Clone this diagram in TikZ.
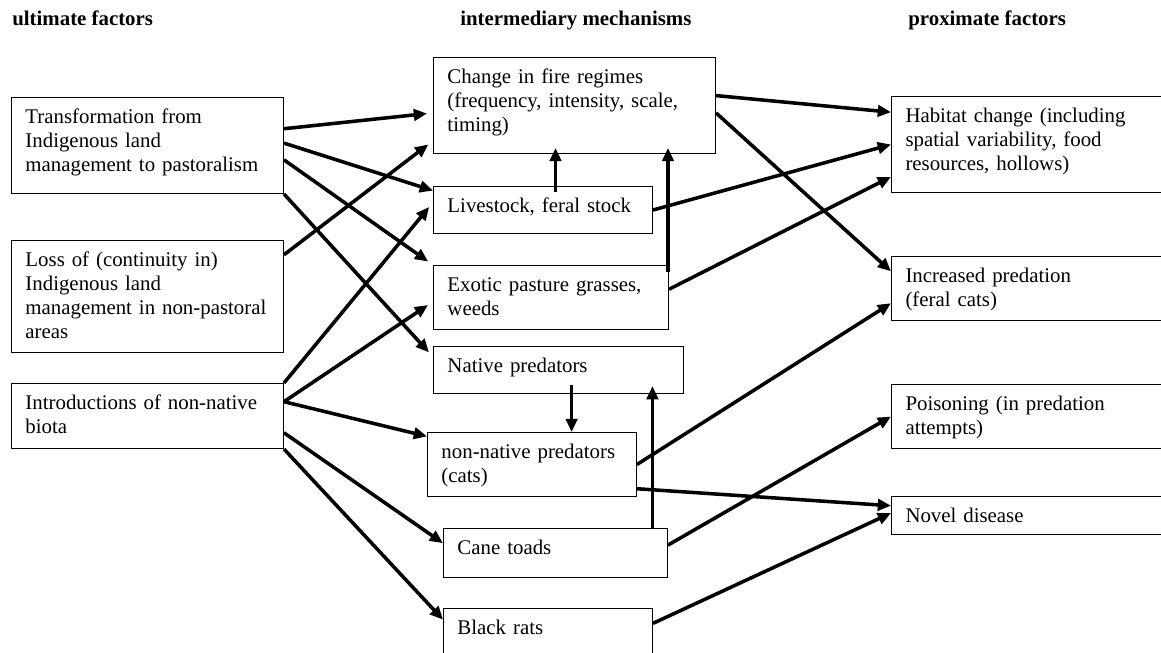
\documentclass[tikz,border=0pt]{standalone}
\usepackage{fontspec}
\setmainfont{Liberation Serif}
\usetikzlibrary{arrows.meta}

\begin{document}
\begin{tikzpicture}[x=0.566pt, y=-0.566pt,
    every node/.style={font=\fontsize{11.8}{13.6}\selectfont},
    head/.style={anchor=base west, inner sep=0pt, font=\fontsize{11.8}{13.6}\selectfont\bfseries},
    factor/.style 2 args={draw, line width=0.6pt, anchor=north west, align=left,
      inner xsep=7.9pt, inner ysep=0pt, text height=14.7pt, text width=#1, text depth=#2},
    link/.style={line width=2pt, -{Triangle[length=7.5pt,width=6.5pt]}},
    gap/.style={shorten >=3.4pt}]
    \useasboundingbox (0,0) rectangle (1161,653);
    \clip (0,0) rectangle (1161,653);

    \node[head] (ult) at (12,26) {ultimate factors};
    \node[head] (mid) at (460,26) {intermediary mechanisms};
    \node[head] (prox) at (908,26) {proximate factors};

    \node[factor={138.1pt}{39.6pt}] (T) at (11,97) {Transformation from\\Indigenous land\\management to pastoralism};
    \node[factor={138.1pt}{48.7pt}] (L) at (11,240) {Loss of (continuity in)\\Indigenous land\\management in \mbox{non-pastoral}\\areas};
    \node[factor={138.1pt}{22.1pt}] (I) at (11,383) {Introductions of \mbox{non-native}\\biota};

    \node[factor={143.8pt}{39.6pt}] (C) at (433,57) {Change in fire regimes\\(frequency, intensity, scale,\\timing)};
    \node[factor={108.1pt}{11.9pt}] (S) at (433,186) {Livestock, feral stock};
    \node[factor={117.2pt}{21.5pt}] (E) at (433,265) {Exotic pasture grasses,\\weeds};
    \node[factor={125.7pt}{11.9pt}] (N) at (433,346) {Native predators};
    \node[factor={102.4pt}{21.5pt}] (P) at (427,432) {\mbox{non-native} predators\\(cats)};
    \node[factor={110.9pt}{13.0pt}] (K) at (443,528) {Cane toads};
    \node[factor={102.4pt}{12.5pt}] (B) at (443,608) {Black rats};

    \node[factor={142.1pt}{39.6pt}] (H) at (891,96) {Habitat change (including\\spatial variability, food\\resources, hollows)};
    \node[factor={142.1pt}{21.5pt}] (R) at (891,256) {Increased predation\\(feral cats)};
    \node[factor={142.1pt}{21.5pt}] (Q) at (891,384) {Poisoning (in predation\\attempts)};
    \node[factor={142.1pt}{6.8pt}] (D) at (891,496) {Novel disease};

    \path[link] (T.7) edge[gap] (C.183);
    \path[link] (T.1) edge (S.170);
    \path[link] (T.-6) edge[gap] (E.north west);
    \path[link] (T.south east) edge[gap] (N.174);
    \path[link] (L.17.5) edge[gap] (C.194);
    \path[link] (I.north east) edge[gap] (S.176);
    \path[link] (I.6.5) edge[gap] (E.182);
    \path[link] (I.6.5) edge (P.165);
    \path[link] (I.-7) edge (K.175);
    \path[link] (I.south east) edge (B.173);

    \path[link, shorten <=-3.4pt, shorten >=-3.4pt] ([xshift=7.1pt]S.north) edge ([xshift=7.1pt]S.north |- C.south);
    \path[link, shorten <=-4pt, shorten >=-3.4pt] ([xshift=-0.6pt]E.north east) edge ([xshift=-0.6pt]E.north east |- C.south);
    \path[link, shorten <=-5pt] ([xshift=7.4pt]N.south) edge ([xshift=7.4pt]N.south |- P.north);
    \path[link, shorten >=-4.5pt] ([xshift=54.9pt]K.north) edge ([xshift=54.9pt]K.north |- N.south);

    \path[link] (C.4) edge (H.167);
    \path[link] (C.-3) edge (R.173.5);
    \path[link] (S.east) edge (H.west);
    \path[link] (E.4) edge (H.193);
    \path[link] (P.east) edge (R.186);
    \path[link] (P.-13.5) edge (D.176);
    \path[link] (K.4) edge (Q.west);
    \path[link] (B.5) edge (D.179);
\end{tikzpicture}
\end{document}
